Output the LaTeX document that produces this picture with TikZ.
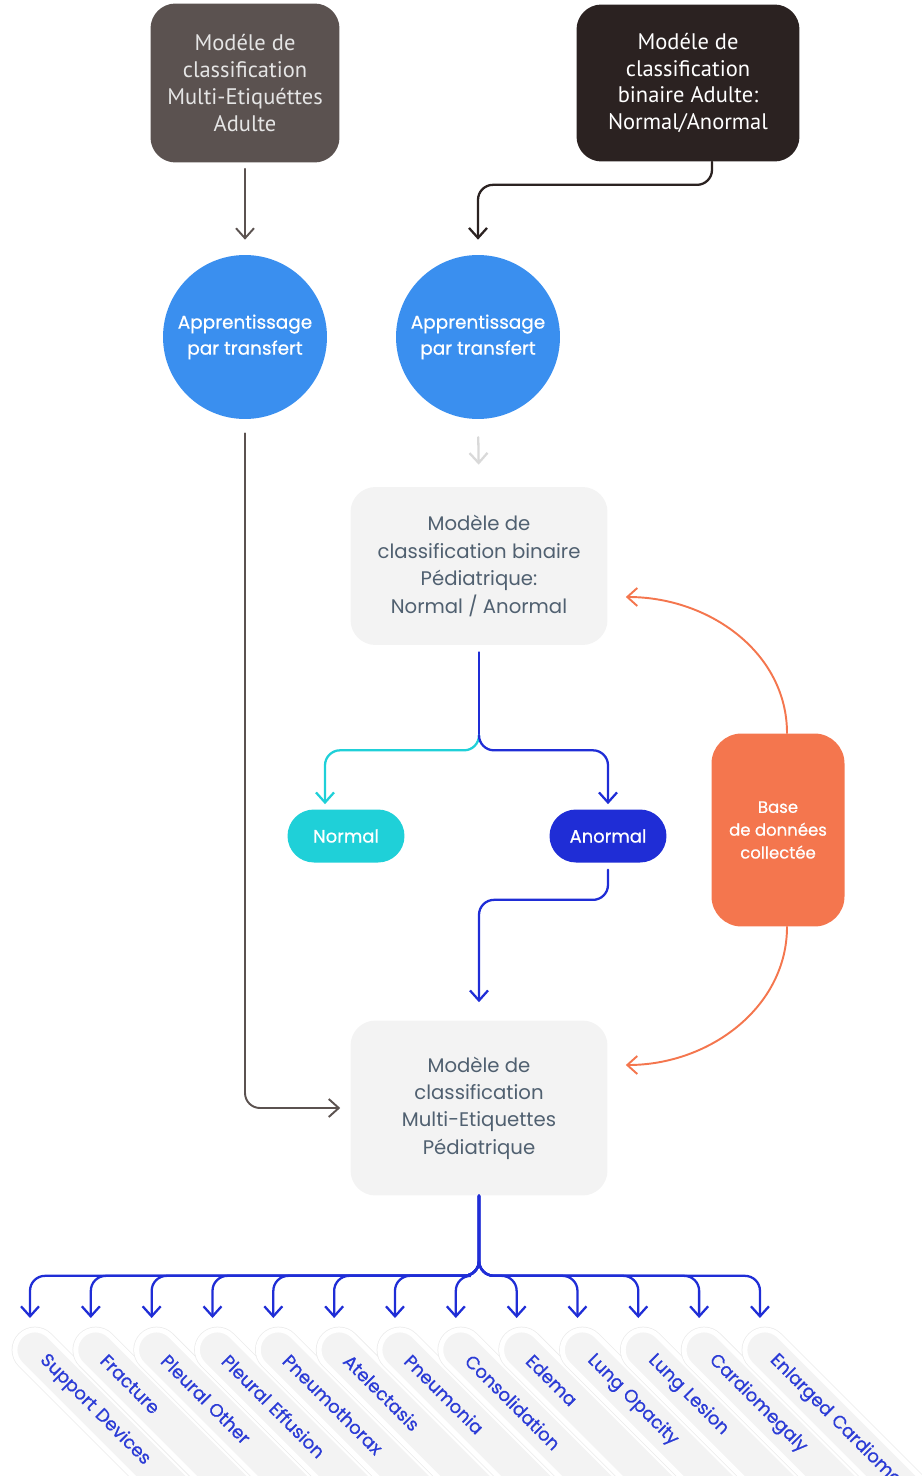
\documentclass[tikz,border=0pt]{standalone}
\usepackage{fontspec}
\setmainfont{Poppins}
\newfontfamily\medfont{Poppins}[FakeBold=0.7]
\newfontfamily\narrowfont{PT Sans}
\usetikzlibrary{arrows.meta,positioning}

\definecolor{adultgrey}{HTML}{5B5250}
\definecolor{adultdark}{HTML}{2B2221}
\definecolor{transblue}{HTML}{3A8FEF}
\definecolor{boxgrey}{HTML}{F3F3F3}
\definecolor{boxtext}{HTML}{506070}
\definecolor{normcyan}{HTML}{1FD0D8}
\definecolor{anorblue}{HTML}{1F2DD6}
\definecolor{baseorange}{HTML}{F4764E}
\definecolor{lbltext}{HTML}{2B3BD6}

\begin{document}
\begin{tikzpicture}[
  x=0.02cm,y=-0.02cm,
  adult/.style={rounded corners=0.5cm,align=center,inner sep=2pt,font=\narrowfont\fontsize{12.8}{15.3}\selectfont},
  transfer/.style={circle,fill=transblue,minimum size=3.28cm,inner sep=0pt,align=center,text=white,font=\medfont\fontsize{10.5}{14.8}\selectfont},
  pedbox/.style={rounded corners=0.5cm,fill=boxgrey,text=boxtext,minimum width=5.14cm,align=center,font=\fontsize{11.2}{15.6}\selectfont},
  result/.style={rounded corners=0.53cm,minimum width=2.34cm,minimum height=1.06cm,text=white,font=\medfont\fontsize{10.2}{12}\selectfont},
  lblpill/.style={rotate=-45,anchor=west,fill=boxgrey,draw=white,line width=0.1cm,
    rounded corners=0.4cm,minimum height=0.8cm,text width=7cm,inner xsep=0.62cm,inner ysep=0pt,
    align=left,text=lbltext,font=\medfont\fontsize{10.3}{11}\selectfont,
    preaction={draw=black!8,line width=0.13cm}},
  arr/.style={-{Straight Barb[length=0.2cm,width=0.36cm]},line width=1.3pt,line cap=round},
]
\useasboundingbox (0,0) rectangle (922,1476);
\clip (0,0) rectangle (922,1476);

% adult models
\node[adult,fill=adultgrey,text=black!10,minimum width=3.78cm,minimum height=3.18cm] (multiA) at (245,83)
  {Modéle de\\classification\\Multi-Etiquéttes\\Adulte};
\node[adult,fill=adultdark,text=white,minimum width=4.46cm,minimum height=3.14cm] (binA) at (688,83)
  {Modéle de\\classification\\binaire Adulte:\\Normal/Anormal};

% transfer learning
\node[transfer] (transA) at (245,337) {Apprentissage\\par transfert};
\node[transfer] (transB) at (478,337) {Apprentissage\\par transfert};

% paediatric models
\node[pedbox,minimum height=3.16cm] (binP) at (479,566)
  {Modèle de\\classification binaire\\Pédiatrique:\\Normal / Anormal};
\node[pedbox,minimum height=3.5cm] (multiP) at (479,1108)
  {Modèle de\\classification\\Multi-Etiquettes\\Pédiatrique};

\node[result,fill=normcyan] (normal) at (346,836) {Normal};
\node[result,fill=anorblue] (anormal) at (608,836) {Anormal};

\node[rounded corners=0.6cm,fill=baseorange,text=white,minimum width=2.66cm,minimum height=3.86cm,
  align=center,font=\medfont\fontsize{9.4}{13}\selectfont] (base) at (778,830) {Base\\de données\\collectée};

\coordinate (split) at ([yshift=-1.8cm]binP.south);

% connectors
\draw[arr,adultgrey,line width=1.1pt,shorten <=0.12cm,shorten >=0.3cm] (multiA.south) -- (transA.north);
\draw[arr,adultdark,rounded corners=0.3cm,shorten >=0.3cm] ([xshift=0.48cm]binA.south) -- ++(0,23) -| (transB.north);
\draw[arr,black!15,shorten <=0.36cm,shorten >=0.44cm] (transB.south) -- (binP.north);
\draw[arr,adultgrey,line width=1.1pt,rounded corners=0.3cm,shorten <=0.28cm,shorten >=0.2cm] (transA.south) |- (multiP.west);

\draw[arr,-,anorblue,shorten <=0.14cm] (binP.south) -- (split);
\draw[arr,normcyan,rounded corners=0.3cm,shorten >=0.1cm] (split) -- ++(0,15) -| ([xshift=-0.42cm]normal.north);
\draw[arr,anorblue,rounded corners=0.3cm,shorten >=0.1cm] (split) -- ++(0,15) -| (anormal.north);
\draw[arr,anorblue,rounded corners=0.3cm,shorten <=0.14cm,shorten >=0.36cm] (anormal.south) -- ++(0,37) -| (multiP.north);

\draw[arr,baseorange,line width=1.1pt,shorten >=0.02cm] ([xshift=0.18cm]base.north)
  .. controls +(0,-80) and +(85,0) .. ([xshift=0.34cm,yshift=-0.62cm]binP.east);
\draw[arr,baseorange,line width=1.1pt,shorten >=0.02cm] ([xshift=0.18cm]base.south)
  .. controls +(0,80) and +(85,0) .. ([xshift=0.34cm,yshift=0.86cm]multiP.east);

% labels
\foreach \lbl [count=\i] in {Support Devices,Fracture,Pleural Other,Pleural Effusion,Pneumothorax,
  Atelectasis,Pneumonia,Consolidation,Edema,Lung Opacity,Lung Lesion,Cardiomegaly,Enlarged Cardiomediastinum}{
  \coordinate (tip\i) at ({30+(\i-1)*60.83},1318);
  \node[lblpill] (lbl\i) at ([shift={(-11,16)}]tip\i) {\lbl};
  \draw[arr,anorblue,rounded corners=0.3cm] (multiP.south) -- ++(0,80) -| (tip\i);
}
\end{tikzpicture}
\end{document}
